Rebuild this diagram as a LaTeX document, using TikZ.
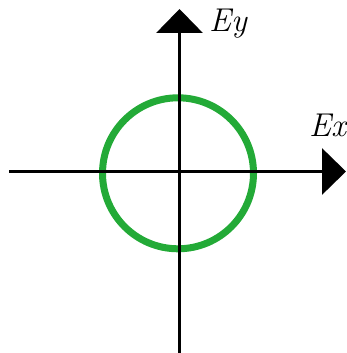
\documentclass[tikz,border=0pt]{standalone}
\usepackage{fontspec}
\usetikzlibrary{arrows.meta}
\definecolor{ringgreen}{RGB}{35,170,55}
\tikzset{
  axis/.style={line width=3.5pt, black, -{Triangle[length=24pt,width=46pt]}},
  ring/.style={line width=7pt, draw=ringgreen},
  lbl/.style={inner sep=0pt, anchor=base west, font=\fontsize{33}{40}\selectfont\itshape}
}
\begin{document}
\begin{tikzpicture}[x=1pt,y=1pt]
\useasboundingbox (0,0) rectangle (346,353);
\clip (0,0) rectangle (346,353);
\coordinate (xs) at (9,181.5);
\coordinate (xe) at (346,181.5);
\coordinate (ys) at (179.5,-2);
\coordinate (ye) at (179.5,344);
\coordinate (c) at (178,179.7);
\draw[ring] (c) circle[radius=75.5];
\draw[axis] (xs) -- (xe);
\draw[axis] (ys) -- (ye);
\node[lbl] (ey) at (209,321) {Ey};
\node[lbl] (ex) at (309,216) {Ex};
\end{tikzpicture}
\end{document}
